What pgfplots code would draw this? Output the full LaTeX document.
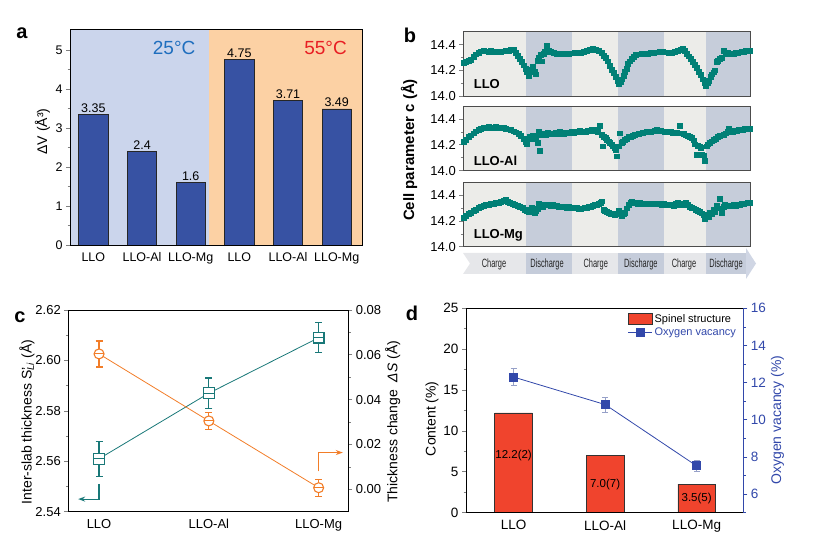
\documentclass[border=0pt]{standalone}
\usepackage{pgfplots}
\pgfplotsset{compat=1.18}
\usepackage{fontspec}
\setmainfont{Liberation Sans}
\newfontfamily\narrowfont[FakeStretch=0.62]{Liberation Sans}
\usetikzlibrary{arrows.meta}

\definecolor{abgA}{RGB}{203,213,236}
\definecolor{abgB}{RGB}{252,209,164}
\definecolor{abar}{RGB}{55,82,163}
\definecolor{t25}{RGB}{30,110,190}
\definecolor{t55}{RGB}{232,30,35}
\definecolor{bch}{RGB}{236,236,233}
\definecolor{bdis}{RGB}{198,205,218}
\definecolor{bch2}{RGB}{230,231,234}
\definecolor{bdis2}{RGB}{197,204,218}
\definecolor{bhead}{RGB}{208,214,228}
\definecolor{tealb}{RGB}{0,128,118}
\definecolor{cteal}{RGB}{25,120,120}
\definecolor{corange}{RGB}{242,125,40}
\definecolor{dred}{RGB}{240,68,45}
\definecolor{dblue}{RGB}{50,72,170}
\definecolor{derr}{RGB}{150,160,200}

\pgfplotsset{
  base/.style={scale only axis, tick align=outside, major tick length=4pt, minor tick length=2.5pt,
    axis line style={line width=0.8pt}, every tick/.append style={line width=0.7pt},
    /pgf/number format/assume math mode=true, axis on top},
  fix1/.style={yticklabel style={/pgf/number format/fixed, /pgf/number format/fixed zerofill, /pgf/number format/precision=1}},
  fix2/.style={yticklabel style={/pgf/number format/fixed, /pgf/number format/fixed zerofill, /pgf/number format/precision=2}},
  bstyle/.style={base, fix1, width=286.7pt, xmin=0, xmax=286.7, ymin=14, ymax=14.5,
    ytick={14,14.2,14.4}, minor ytick={14.1,14.3}, xtick=\empty,
    ticklabel style={font=\fontsize{13}{14}\selectfont},
    axis line style={draw=black!70, line width=0.9pt},
    ytick pos=left},
  bpts/.style={only marks, mark=square*, mark size=2.4pt, mark options={draw=tealb, fill=tealb}},
  boxlegend/.style={legend image code/.code={\draw[##1] (0pt,-5.5pt) rectangle (24pt,5.5pt);}},
  linelegend/.style={legend image code/.code={\draw[mark repeat=2,mark phase=2,##1] plot coordinates {(0pt,0pt) (12pt,0pt) (24pt,0pt)};}}
}

\begin{document}
\begin{tikzpicture}[x=1pt,y=1pt]
\path[use as bounding box] (0,0) rectangle (819,544);

% ---------------- panel a ----------------
\begin{axis}[base, at={(70pt,299pt)}, anchor=south west, width=292pt, height=216pt,
  xmin=-0.48, xmax=5.52, ymin=0, ymax=5.54,
  ytick={0,1,2,3,4,5}, minor y tick num=1, ytick pos=left,
  xtick={0,1,2,3,4,5}, xticklabels={LLO,LLO-Al,LLO-Mg,LLO,LLO-Al,LLO-Mg},
  xtick style={draw=none},
  ticklabel style={font=\fontsize{12.5}{14}\selectfont},
  ylabel={ΔV (Å³)}, ylabel style={font=\fontsize{14}{15}\selectfont, at={(axis description cs:-0.094,0.525)}, anchor=center}]
\fill[abgA] (axis cs:-0.48,0) rectangle (axis cs:2.38,5.54);
\fill[abgB] (axis cs:2.38,0) rectangle (axis cs:5.52,5.54);
\addplot[ybar, bar width=0.6, fill=abar, draw=black!85, line width=0.7pt,
  point meta=explicit symbolic, nodes near coords,
  every node near coord/.append style={font=\fontsize{12.5}{14}\selectfont, black, inner sep=1.5pt}]
  coordinates {(0,3.35)[3.35] (1,2.4)[2.4] (2,1.6)[1.6] (3,4.75)[4.75] (4,3.71)[3.71] (5,3.49)[3.49]};
\node[t25, font=\fontsize{19}{20}\selectfont] at (axis cs:1.66,5.06) {25°C};
\node[t55, font=\fontsize{19}{20}\selectfont] at (axis cs:4.77,5.06) {55°C};
\end{axis}

% ---------------- panel b ----------------
\begin{axis}[bstyle, at={(463.3pt,448pt)}, anchor=south west, height=64.3pt]
\fill[bch] (axis cs:0,14) rectangle (axis cs:286.7,14.5);
\fill[bdis] (axis cs:62.7,14) rectangle (axis cs:108.4,14.5);
\fill[bdis] (axis cs:155,14) rectangle (axis cs:200.7,14.5);
\fill[bdis] (axis cs:242.4,14) rectangle (axis cs:286.7,14.5);
\addplot[bpts] coordinates {
(0,14.262)(2.5,14.268)(5,14.275)(7.5,14.285)(10,14.305)(12.5,14.325)(15,14.338)(17.5,14.348)(20,14.352)(22.5,14.349)
(25,14.346)(27.5,14.350)(30,14.344)(32.5,14.347)(35,14.343)(37.5,14.346)(40,14.348)(42.5,14.352)(45,14.355)(47.5,14.360)
(50,14.364)(52,14.335)(54,14.315)(56,14.290)(58,14.265)(60,14.240)(62,14.215)(63.5,14.190)(65,14.155)(66.5,14.185)
(68,14.205)(69.5,14.225)(71,14.190)(72.5,14.170)(74,14.275)(75.5,14.295)(77,14.320)(78.5,14.270)(80,14.330)(81.5,14.345)
(83.5,14.392)(85,14.350)(87,14.342)(90,14.338)(93,14.330)(96,14.333)(99,14.328)(102,14.330)(105,14.327)(108,14.333)
(111,14.335)(114,14.340)(117,14.338)(120,14.342)(123,14.350)(126,14.357)(129,14.365)(132,14.360)(135,14.355)(138,14.335)
(140,14.315)(142,14.295)(144,14.270)(146,14.235)(148,14.205)(150,14.180)(152,14.150)(154,14.120)(155.5,14.098)(157,14.108)
(158.5,14.130)(160,14.155)(161.5,14.190)(163,14.215)(164.5,14.250)(166,14.270)(168,14.290)(170,14.305)(172,14.318)(175,14.325)
(178,14.330)(181,14.333)(184,14.330)(187,14.335)(190,14.337)(193,14.340)(196,14.342)(199,14.345)(202,14.340)(205,14.333)
(208,14.335)(211,14.345)(214,14.352)(217,14.362)(219,14.368)(221,14.350)(223,14.330)(225,14.310)(227,14.290)(229,14.268)
(231,14.245)(233,14.220)(235,14.190)(237,14.165)(239,14.130)(241,14.105)(242.7,14.080)(244,14.100)(245.5,14.120)(247,14.150)
(248.5,14.170)(250,14.185)(251.5,14.200)(253,14.265)(254.5,14.275)(256,14.290)(258,14.300)(260,14.355)(262,14.330)(264,14.335)
(266,14.328)(268,14.333)(270,14.330)(272,14.336)(274,14.333)(276,14.340)(278,14.345)(280,14.342)(282,14.350)(284,14.355)(286,14.352)};
\node[anchor=west, font=\bfseries\fontsize{13}{14}\selectfont] at (axis cs:7,14.095) {LLO};
\end{axis}

\begin{axis}[bstyle, at={(463.3pt,373.3pt)}, anchor=south west, height=64.7pt]
\fill[bch] (axis cs:0,14) rectangle (axis cs:286.7,14.5);
\fill[bdis] (axis cs:62.7,14) rectangle (axis cs:108.4,14.5);
\fill[bdis] (axis cs:155,14) rectangle (axis cs:200.7,14.5);
\fill[bdis] (axis cs:242.4,14) rectangle (axis cs:286.7,14.5);
\addplot[bpts] coordinates {
(0,14.225)(2.5,14.240)(5,14.260)(7.5,14.275)(10,14.290)(12.5,14.305)(15,14.318)(17.5,14.327)(20,14.333)(22.5,14.330)
(25,14.338)(27.5,14.335)(30,14.332)(32.5,14.337)(35,14.330)(37.5,14.328)(40,14.332)(42.5,14.325)(45,14.320)(47.5,14.318)
(50,14.305)(52.5,14.298)(55,14.285)(57.5,14.270)(60,14.250)(62,14.225)(63.5,14.210)(65,14.245)(66.5,14.260)(68,14.250)
(69.5,14.270)(71,14.275)(72.5,14.265)(74,14.215)(75,14.305)(76.7,14.155)(78,14.280)(80,14.285)(82,14.278)(84,14.292)
(86,14.285)(88,14.290)(90,14.282)(92,14.293)(94,14.288)(96,14.300)(98,14.292)(100,14.288)(102,14.295)(104,14.290)
(106,14.297)(108,14.300)(110,14.295)(112,14.302)(114,14.298)(116,14.307)(118,14.300)(120,14.305)(122,14.300)(124,14.310)
(126,14.305)(128,14.315)(130,14.320)(132,14.310)(134,14.300)(136.7,14.345)(138,14.280)(139.4,14.190)(140.5,14.265)(142,14.255)
(143.5,14.240)(145,14.228)(146.5,14.215)(148,14.205)(149.5,14.190)(151,14.175)(152.5,14.165)(153.5,14.112)(155,14.190)(156.7,14.290)
(158,14.215)(159.5,14.225)(161,14.240)(163,14.250)(165,14.260)(167,14.265)(169,14.270)(171,14.278)(173,14.282)(175,14.288)
(177,14.290)(179,14.295)(181,14.298)(183,14.300)(185,14.302)(187,14.300)(189,14.305)(191,14.310)(193,14.314)(195,14.312)
(197,14.308)(199,14.306)(201,14.303)(203,14.300)(205,14.298)(207,14.300)(209,14.296)(211,14.298)(213,14.295)(216,14.345)
(218,14.290)(220,14.285)(222,14.275)(224,14.268)(226,14.262)(228,14.255)(230,14.235)(231.5,14.205)(233,14.125)(234.5,14.195)
(236,14.190)(237.5,14.180)(238.5,14.125)(240,14.120)(241.7,14.075)(243,14.190)(244.5,14.205)(246,14.215)(248,14.228)(250,14.240)
(252,14.250)(254,14.262)(256,14.268)(258,14.275)(260,14.280)(262,14.290)(264,14.300)(265.5,14.325)(267,14.305)(269,14.300)
(271,14.310)(273,14.305)(275,14.315)(277,14.320)(279,14.318)(281,14.322)(283,14.325)(285,14.320)(286.5,14.325)};
\node[anchor=west, font=\bfseries\fontsize{13}{14}\selectfont] at (axis cs:7,14.075) {LLO-Al};
\end{axis}

\begin{axis}[bstyle, at={(463.3pt,297.3pt)}, anchor=south west, height=64pt]
\fill[bch] (axis cs:0,14) rectangle (axis cs:286.7,14.5);
\fill[bdis] (axis cs:62.7,14) rectangle (axis cs:108.4,14.5);
\fill[bdis] (axis cs:155,14) rectangle (axis cs:200.7,14.5);
\fill[bdis] (axis cs:242.4,14) rectangle (axis cs:286.7,14.5);
\addplot[bpts] coordinates {
(0,14.225)(2.5,14.240)(5,14.255)(7.5,14.268)(10,14.280)(12.5,14.292)(15,14.305)(17.5,14.315)(20,14.322)(22.5,14.328)
(25,14.325)(27.5,14.335)(30,14.338)(32.5,14.342)(35,14.345)(37.5,14.352)(40,14.358)(42,14.365)(44,14.350)(46.5,14.342)
(49,14.338)(51.5,14.330)(54,14.322)(56.5,14.315)(59,14.305)(61.5,14.292)(63.5,14.280)(65,14.275)(66.5,14.290)(68,14.302)
(69.5,14.285)(71,14.268)(72.5,14.280)(74,14.295)(75.5,14.340)(77,14.320)(79,14.315)(81,14.325)(83,14.332)(85,14.328)
(87,14.322)(89,14.326)(91,14.318)(93,14.322)(95,14.315)(97,14.312)(99,14.316)(101,14.308)(103,14.305)(105,14.310)
(107,14.302)(109,14.305)(111,14.300)(113,14.305)(115,14.298)(117,14.296)(119,14.300)(121,14.305)(123,14.303)(125,14.310)
(127,14.315)(129,14.318)(131,14.325)(133,14.330)(135,14.338)(137,14.345)(138.5,14.355)(140,14.290)(141.5,14.282)(143,14.275)
(145,14.266)(147,14.260)(149,14.255)(151,14.250)(153,14.262)(155,14.280)(156.5,14.258)(158.4,14.240)(160,14.255)(161.7,14.266)
(163.5,14.300)(165,14.325)(167,14.345)(168.5,14.356)(170,14.340)(172,14.345)(174,14.338)(176,14.342)(178,14.336)(180,14.338)
(182,14.334)(184,14.340)(186,14.336)(188,14.338)(190,14.335)(192,14.340)(194,14.336)(196,14.332)(198,14.330)(200,14.333)
(202,14.328)(204,14.326)(206,14.325)(208,14.330)(210,14.322)(212,14.340)(214,14.345)(216,14.330)(218,14.325)(220,14.335)
(222,14.345)(224,14.328)(226,14.315)(228,14.305)(230,14.300)(232,14.290)(234,14.282)(236,14.275)(238,14.262)(240,14.253)
(241.7,14.215)(243.4,14.240)(245,14.230)(246.7,14.266)(248.5,14.255)(250,14.290)(251.7,14.275)(253.4,14.320)(255,14.300)(256.5,14.378)
(258.4,14.266)(260,14.310)(261.7,14.330)(263.5,14.320)(265.5,14.322)(268,14.318)(270,14.326)(272,14.322)(274,14.330)(276,14.328)
(278,14.334)(280,14.332)(282,14.340)(284,14.345)(286.5,14.343)};
\node[anchor=west, font=\bfseries\fontsize{13}{14}\selectfont] at (axis cs:7,14.085) {LLO-Mg};
\end{axis}

% arrow bar under panel b
\fill[bch2] (463,291) -- (526,291) -- (526,270) -- (463,270) -- (470,280.5) -- cycle;
\fill[bdis2] (526,291) rectangle (571.7,270);
\fill[bch2] (571.7,291) rectangle (618.3,270);
\fill[bdis2] (618.3,291) rectangle (664,270);
\fill[bch2] (664,291) rectangle (705.7,270);
\fill[bdis2] (705.7,291) -- (746,291) -- (746,270) -- (705.7,270) -- cycle;
\fill[bhead] (746,296) -- (756,280.5) -- (746,265) -- cycle;
\begin{scope}[every node/.style={font=\narrowfont\fontsize{12}{13}\selectfont, text=black!85}]
\node at (494,279.7) {Charge};
\node at (547,279.7) {Discharge};
\node at (595.7,279.7) {Charge};
\node at (640.8,279.7) {Discharge};
\node at (684,279.7) {Charge};
\node at (726,279.7) {Discharge};
\end{scope}
\node[rotate=90, font=\bfseries\fontsize{15}{16}\selectfont] at (409,394) {Cell parameter c (Å)};

% ---------------- panel c ----------------
\begin{axis}[base, fix2, at={(68.3pt,32.3pt)}, anchor=south west, width=280pt, height=201.7pt,
  xmin=-0.28, xmax=2.27, ymin=2.54, ymax=2.62,
  ytick={2.54,2.56,2.58,2.60,2.62}, minor ytick={2.55,2.57,2.59,2.61}, ytick pos=left,
  xtick={0,1,2}, xticklabels={LLO,LLO-Al,LLO-Mg}, xtick style={draw=none},
  ticklabel style={font=\fontsize{13}{14}\selectfont},
  ylabel={Inter-slab thickness S\rlap{'}\textsubscript{\textit{Li}} (Å)},
  ylabel style={font=\fontsize{14}{15}\selectfont, at={(axis description cs:-0.1475,0.445)}, anchor=center}]
\addplot[cteal, line width=0.8pt, mark=square*, mark size=5.3pt,
  mark options={fill=white, line width=1.1pt},
  error bars/.cd, y dir=both, y explicit,
  error bar style={line width=1.2pt},
  error mark options={rotate=90, mark size=3.5pt, line width=1.2pt}]
  coordinates {(0,2.561) +- (0,0.007) (1,2.587) +- (0,0.006) (2,2.609) +- (0,0.006)};
\addplot[cteal, only marks, mark=-, mark size=5.3pt, mark options={line width=1pt}]
  coordinates {(0,2.561) (1,2.587) (2,2.609)};
\draw[cteal, line width=1.1pt, -{Stealth[length=7pt,width=5pt]}] (axis cs:0,2.551) -- (axis cs:0,2.545) -- (axis cs:-0.19,2.545);
\end{axis}
\begin{axis}[base, fix2, at={(68.3pt,32.3pt)}, anchor=south west, width=280pt, height=201.7pt,
  xmin=-0.28, xmax=2.27, ymin=-0.01, ymax=0.08, scaled y ticks=false,
  ytick={0,0.02,0.04,0.06,0.08}, minor ytick={0.01,0.03,0.05,0.07},
  axis y line*=right, hide x axis,
  ticklabel style={font=\fontsize{13}{14}\selectfont},
  ylabel={Thickness change\ \ \textit{ΔS} (Å)},
  ylabel style={font=\fontsize{14}{15}\selectfont, at={(axis description cs:1.159,0.446)}, anchor=center}]
\addplot[corange, line width=0.8pt, mark=*, mark size=5pt,
  mark options={fill=white, line width=1.1pt},
  error bars/.cd, y dir=both, y explicit,
  error bar style={line width=1.2pt},
  error mark options={rotate=90, mark size=3.5pt, line width=1.2pt}]
  coordinates {(0,0.0604) +- (0,0.0058) (1,0.0305) +- (0,0.0038) (2,0.0007) +- (0,0.0038)};
\addplot[corange, only marks, mark=-, mark size=5pt, mark options={line width=1pt}]
  coordinates {(0,0.0604) (1,0.0305) (2,0.0007)};
\draw[corange, line width=1.1pt, -{Stealth[length=7pt,width=5pt]}] (axis cs:2,0.008) -- (axis cs:2,0.0164) -- (axis cs:2.22,0.0164);
\end{axis}

% ---------------- panel d ----------------
\begin{axis}[base, at={(466pt,31.3pt)}, anchor=south west, width=277.3pt, height=204.4pt,
  xmin=-0.52, xmax=2.51, ymin=0, ymax=25,
  ytick={0,5,10,15,20,25}, minor y tick num=1, ytick pos=left,
  xtick={0,1,2}, xticklabels={LLO,LLO-Al,LLO-Mg}, xtick style={draw=none},
  ticklabel style={font=\fontsize{13.5}{15}\selectfont},
  ylabel={Content (\%)},
  ylabel style={font=\fontsize{14}{15}\selectfont, at={(axis description cs:-0.123,0.46)}, anchor=center}]
\addplot[ybar, bar width=0.41, fill=dred, draw=black!80, line width=0.7pt]
  coordinates {(0,12.2) (1,7.0) (2,3.5)};
\node[font=\fontsize{11.5}{13}\selectfont] at (axis cs:0,6.97) {12.2(2)};
\node[font=\fontsize{11.5}{13}\selectfont] at (axis cs:1,3.5) {7.0(7)};
\node[font=\fontsize{11.5}{13}\selectfont] at (axis cs:2,1.75) {3.5(5)};
\end{axis}
\begin{axis}[base, at={(466pt,31.3pt)}, anchor=south west, width=277.3pt, height=204.4pt,
  xmin=-0.52, xmax=2.51, ymin=5, ymax=16,
  ytick={6,8,10,12,14,16}, minor ytick={5,7,9,11,13,15},
  axis y line*=right, hide x axis,
  y axis line style={draw=dblue}, ytick style={draw=dblue},
  yticklabel style={text=dblue},
  ticklabel style={font=\fontsize{13.5}{15}\selectfont},
  ylabel={Oxygen vacancy (\%)},
  ylabel style={font=\fontsize{14}{15}\selectfont, text=dblue, at={(axis description cs:1.123,0.454)}, anchor=center},
  legend style={at={(rel axis cs:0.985,0.985)}, anchor=north east, draw=none, fill=none,
    font=\fontsize{11}{12}\selectfont, row sep=0pt, inner sep=1pt},
  legend cell align=left]
\addlegendimage{boxlegend, fill=dred, draw=black!80, line width=0.7pt}
\addlegendentry{Spinel structure}
\addplot[dblue, line width=0.8pt, mark=square*, mark size=4pt, linelegend,
  error bars/.cd, y dir=both, y explicit,
  error bar style={derr, line width=0.7pt},
  error mark options={derr, rotate=90, mark size=3pt, line width=0.7pt}]
  coordinates {(0,12.3) +- (0,0.45) (1,10.82) +- (0,0.4) (2,7.52) +- (0,0.3)};
\addlegendentry{\textcolor{dblue}{Oxygen vacancy}}
\end{axis}

% panel letters
\node[font=\bfseries\fontsize{20}{22}\selectfont] at (22,511) {a};
\node[font=\bfseries\fontsize{20}{22}\selectfont] at (410,509) {b};
\node[font=\bfseries\fontsize{20}{22}\selectfont] at (20,227) {c};
\node[font=\bfseries\fontsize{20}{22}\selectfont] at (412,231) {d};
\end{tikzpicture}
\end{document}
